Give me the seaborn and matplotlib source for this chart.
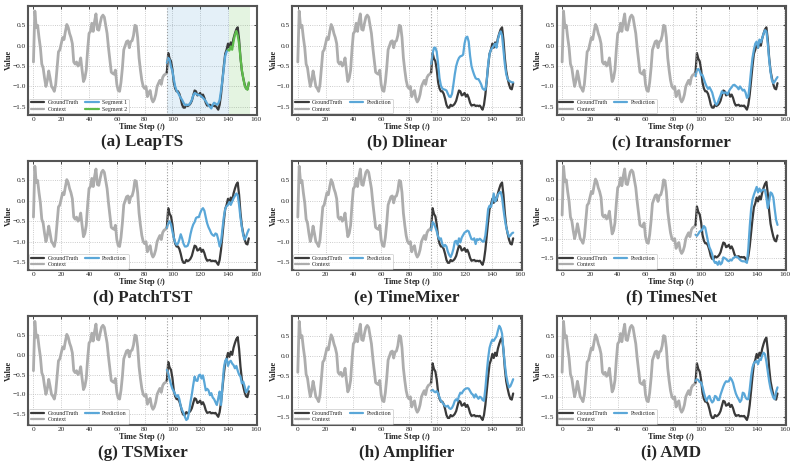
import numpy as np
import pandas as pd
import seaborn as sns
import matplotlib.pyplot as plt
from matplotlib.lines import Line2D

# context window (t = 0..96)
context_t = list(range(0, 97))
context = [-0.40, 0.85, 0.45, 0.50, 0.20, -0.05, -0.45, -0.55, -0.80, -1.00,
           -0.85, -0.62, -0.80, -1.00, -1.05, -1.12, -0.95, -0.55, -0.15, -0.10,
           0.05, 0.20, 0.15, 0.35, 0.52, 0.45, 0.30, 0.20, 0.05, -0.40,
           -0.45, -0.40, -0.50, -0.45, -0.30, -0.60, -0.88, -0.80, -0.60, -0.10,
           0.30, 0.35, 0.55, 0.35, 0.60, 0.78, 0.40, 0.38, 0.55, 0.70,
           0.75, 0.70, 0.50, 0.30, -0.05, -0.35, -0.65, -0.68, -0.70, -0.60,
           -0.95, -1.10, -1.12, -0.90, -0.55, -0.10, 0.00, 0.10, 0.12, -0.05,
           0.10, 0.12, 0.25, 0.50, 0.48, 0.20, -0.30, -0.60, -0.85, -1.00,
           -1.05, -1.00, -1.25, -1.15, -1.10, -1.30, -1.38, -1.32, -1.20, -1.00,
           -0.92, -0.85, -0.95, -0.78, -0.72, -0.70, -0.65]

# horizon (t = 96..155)
horizon_t = list(range(96, 156))
ground_truth = [-0.65, -0.18, -0.32, -0.38, -0.58, -0.90, -1.05, -1.12, -1.12, -1.18,
                -1.30, -1.45, -1.52, -1.52, -1.45, -1.48, -1.46, -1.42, -1.35, -1.22,
                -1.10, -1.12, -1.22, -1.20, -1.16, -1.25, -1.20, -1.28, -1.40, -1.47,
                -1.46, -1.45, -1.48, -1.47, -1.48, -1.47, -1.52, -1.57, -1.45, -1.20,
                -0.85, -0.50, -0.20, -0.10, 0.05, -0.05, 0.08, 0.00, 0.18, 0.30,
                0.40, 0.45, 0.15, -0.30, -0.62, -0.80, -0.95, -1.05, -1.07, -0.92]

# LeapTS is drawn as two segments
seg1_t = list(range(96, 141))
seg1 = [-0.42, -0.30, -0.35, -0.52, -0.62, -0.82, -1.00, -1.10, -1.15, -1.22,
        -1.28, -1.33, -1.40, -1.45, -1.46, -1.45, -1.45, -1.40, -1.33, -1.22,
        -1.16, -1.18, -1.20, -1.21, -1.22, -1.25, -1.28, -1.32, -1.36, -1.42,
        -1.46, -1.50, -1.54, -1.45, -1.40, -1.42, -1.45, -1.42, -1.33, -1.10,
        -0.85, -0.55, -0.25, -0.15, -0.10]
seg2_t = list(range(140, 156))
seg2 = [-0.10, -0.12, -0.02, -0.10, 0.10, 0.27, 0.36, 0.25, 0.05, -0.30,
        -0.60, -0.80, -0.98, -1.05, -1.08, -0.90]

dlinear = [-0.45, -0.20, -0.05, -0.05, -0.15, -0.45, -0.80, -0.98, -1.05, -1.07,
           -1.08, -1.10, -1.18, -1.25, -1.26, -1.18, -0.95, -0.70, -0.50, -0.38,
           -0.30, -0.26, -0.25, -0.22, 0.05, 0.20, 0.22, 0.10, -0.25, -0.50,
           -0.62, -0.72, -0.80, -0.82, -0.82, -0.88, -0.95, -1.05, -1.08, -1.08,
           -0.85, -0.45, -0.20, -0.10, -0.05, 0.00, 0.05, -0.05, 0.15, 0.28,
           0.35, 0.25, -0.10, -0.45, -0.70, -0.82, -0.86, -0.88, -0.90, -0.90]
itransformer = [-0.75, -0.60, -0.57, -0.62, -0.72, -0.72, -0.82, -0.92, -1.00, -1.06,
                -1.02, -1.08, -1.15, -1.28, -1.40, -1.45, -1.40, -1.30, -1.22, -1.12,
                -1.16, -1.15, -1.15, -1.20, -1.12, -1.06, -1.02, -0.97, -0.96, -0.99,
                -1.02, -1.07, -1.00, -1.05, -1.10, -1.08, -1.15, -1.28, -1.25, -0.95,
                -0.60, -0.30, -0.10, 0.05, 0.10, -0.05, 0.15, 0.08, 0.18, 0.30,
                0.38, 0.35, 0.05, -0.35, -0.65, -0.85, -0.92, -0.88, -0.82, -0.77]
patchtst = [-0.67, -0.55, -0.50, -0.58, -0.75, -0.90, -1.02, -1.08, -1.05, -0.95,
            -0.82, -0.92, -1.05, -1.12, -1.12, -1.10, -1.00, -0.82, -0.68, -0.58,
            -0.52, -0.42, -0.40, -0.40, -0.30, -0.22, -0.18, -0.24, -0.40, -0.55,
            -0.65, -0.72, -0.80, -0.84, -0.86, -0.80, -0.82, -0.95, -1.12, -1.00,
            -0.70, -0.40, -0.20, -0.13, -0.10, -0.03, -0.10, -0.02, 0.06, 0.12,
            0.18, 0.14, -0.10, -0.42, -0.65, -0.85, -0.95, -0.88, -0.78, -0.70]
timemixer = [-0.72, -0.52, -0.56, -0.65, -0.75, -0.88, -0.95, -0.92, -1.06, -1.12,
             -1.08, -1.12, -1.25, -1.33, -1.38, -1.30, -1.18, -1.00, -0.98, -1.08,
             -0.92, -1.02, -0.90, -0.84, -0.78, -0.76, -0.73, -0.75, -0.85, -0.94,
             -0.95, -0.92, -1.06, -0.94, -0.96, -0.93, -0.96, -1.00, -1.00, -0.85,
             -0.55, -0.20, -0.12, -0.15, -0.02, 0.18, -0.02, 0.05, 0.15, 0.20,
             0.22, 0.08, -0.20, -0.45, -0.65, -0.78, -0.88, -0.85, -0.80, -0.78]
timesnet = [-0.90, -0.93, -0.88, -0.82, -0.80, -0.76, -0.68, -0.72, -0.90, -1.08,
            -1.22, -1.30, -1.40, -1.55, -1.62, -1.60, -1.67, -1.58, -1.66, -1.62,
            -1.48, -1.50, -1.52, -1.56, -1.58, -1.54, -1.56, -1.50, -1.48, -1.46,
            -1.47, -1.50, -1.54, -1.57, -1.58, -1.58, -1.59, -1.62, -1.25, -0.70,
            -0.25, 0.00, 0.12, 0.22, 0.32, 0.18, 0.28, 0.20, 0.24, 0.25,
            0.24, 0.05, -0.22, -0.05, 0.18, 0.15, 0.05, -0.25, -0.52, -0.65]
tsmixer = [-0.38, -0.47, -0.62, -0.75, -0.86, -0.92, -1.00, -1.06, -1.02, -1.12,
           -1.30, -1.40, -1.47, -1.57, -1.65, -1.62, -1.45, -1.20, -1.00, -0.76,
           -0.55, -0.65, -0.66, -0.52, -0.50, -0.60, -0.52, -0.70, -0.90, -0.86,
           -0.90, -1.02, -0.97, -1.08, -1.12, -1.20, -1.27, -1.10, -0.93, -1.27,
           -0.80, -0.35, -0.15, -0.10, -0.28, -0.18, -0.15, -0.22, -0.26, -0.34,
           -0.28, -0.40, -0.50, -0.55, -0.72, -0.68, -0.80, -0.95, -0.90, -0.80]
amplifier = [-0.85, -0.83, -0.87, -0.89, -0.86, -0.92, -1.02, -1.10, -1.14, -1.18,
             -1.23, -1.24, -1.22, -1.28, -1.30, -1.27, -1.20, -1.10, -1.06, -1.10,
             -0.98, -0.90, -0.92, -0.86, -0.82, -0.80, -0.79, -0.80, -0.86, -0.92,
             -0.95, -1.02, -0.94, -1.00, -1.05, -1.00, -1.02, -1.08, -1.10, -0.80,
             -0.40, -0.05, 0.20, 0.32, 0.40, 0.37, 0.43, 0.48, 0.62, 0.74,
             0.68, 0.55, 0.15, -0.20, -0.48, -0.65, -0.77, -0.74, -0.66, -0.57]
amd = [-0.61, -0.57, -0.59, -0.64, -0.65, -0.75, -0.90, -1.02, -1.10, -1.02,
       -0.98, -1.08, -1.14, -1.10, -0.98, -1.00, -1.08, -1.08, -0.95, -0.85,
       -0.75, -0.67, -0.62, -0.63, -0.62, -0.53, -0.58, -0.66, -0.80, -0.92,
       -1.00, -1.06, -1.13, -1.08, -0.90, -0.92, -1.02, -1.06, -1.06, -0.82,
       -0.50, -0.28, -0.18, -0.14, -0.12, -0.20, -0.08, -0.10, 0.02, 0.08,
       0.04, -0.14, -0.38, -0.62, -0.80, -0.92, -1.02, -1.06, -0.88, -0.77]

titles = ["(a) LeapTS", "(b) Dlinear", "(c) Itransformer",
          "(d) PatchTST", "(e) TimeMixer", "(f) TimesNet",
          "(g) TSMixer", "(h) Amplifier", "(i) AMD"]
predictions = [None, dlinear, itransformer, patchtst, timemixer, timesnet,
               tsmixer, amplifier, amd]

C_GT = '#3a3a3a'
C_CTX = '#adadad'
C_PRED = '#5aa7d8'
C_SEG2 = '#5dbb4a'

sns.set_style("white")
plt.rcParams['font.family'] = ['Liberation Serif', 'DejaVu Serif']
plt.rcParams['mathtext.fontset'] = 'stix'

fig, axes = plt.subplots(3, 3, figsize=(7.97, 4.69), dpi=100)
plt.subplots_adjust(left=0.035, right=0.986, top=0.987, bottom=0.094,
                    wspace=0.153, hspace=0.43)

for i, ax in enumerate(axes.flat):
    sns.lineplot(x=context_t, y=context, ax=ax, color=C_CTX, lw=2.0)
    sns.lineplot(x=horizon_t, y=ground_truth, ax=ax, color=C_GT, lw=1.6)
    if i == 0:
        ax.axvspan(96, 141, color='#5aa7d8', alpha=0.16, lw=0)
        ax.axvspan(141, 156, color='#5dbb4a', alpha=0.16, lw=0)
        sns.lineplot(x=seg1_t, y=seg1, ax=ax, color=C_PRED, lw=1.6)
        sns.lineplot(x=seg2_t, y=seg2, ax=ax, color=C_SEG2, lw=1.6)
        handles = [Line2D([], [], color=C_GT, lw=1.6, label='GroundTruth'),
                   Line2D([], [], color=C_CTX, lw=1.6, label='Context'),
                   Line2D([], [], color=C_PRED, lw=1.6, label='Segment 1'),
                   Line2D([], [], color=C_SEG2, lw=1.6, label='Segment 2')]
    else:
        sns.lineplot(x=horizon_t, y=predictions[i], ax=ax, color=C_PRED, lw=1.6)
        handles = [Line2D([], [], color=C_GT, lw=1.6, label='GroundTruth'),
                   Line2D([], [], color=C_CTX, lw=1.6, label='Context'),
                   Line2D([], [], color=C_PRED, lw=1.6, label='Prediction')]

    ax.axvline(96, color='#999999', ls=':', lw=0.8)
    ax.set_xlim(-4, 161)
    ax.set_xticks([0, 20, 40, 60, 80, 100, 120, 140, 160])
    ax.set_yticks([-1.5, -1.0, -0.5, 0.0, 0.5])
    ax.grid(True, ls=':', color='#bbbbbb', lw=0.6)
    ax.tick_params(direction='in', top=True, right=True, length=2.5,
                   width=0.6, labelsize=5.3, pad=1.5)
    for s in ax.spines.values():
        s.set_linewidth(1.5)
        s.set_color('#555555')
    ax.set_xlabel(r'Time Step ($t$)', fontsize=6, fontweight='bold', labelpad=-0.5)
    ax.set_ylabel('Value', fontsize=6, fontweight='bold', labelpad=-0.5)
    leg = ax.legend(handles=handles, loc='lower left', ncol=2, fontsize=4.2,
                    handlelength=2.3, borderpad=0.3, labelspacing=0.2,
                    columnspacing=1.1, handletextpad=0.6, frameon=True,
                    borderaxespad=0.2)
    leg.get_frame().set_edgecolor('#bbbbbb')
    leg.get_frame().set_linewidth(0.5)
    ax.text(0.5, -0.255, titles[i], transform=ax.transAxes, ha='center',
            va='center', fontsize=12.3, fontweight='bold')

fig.savefig('out.png', dpi=100)
